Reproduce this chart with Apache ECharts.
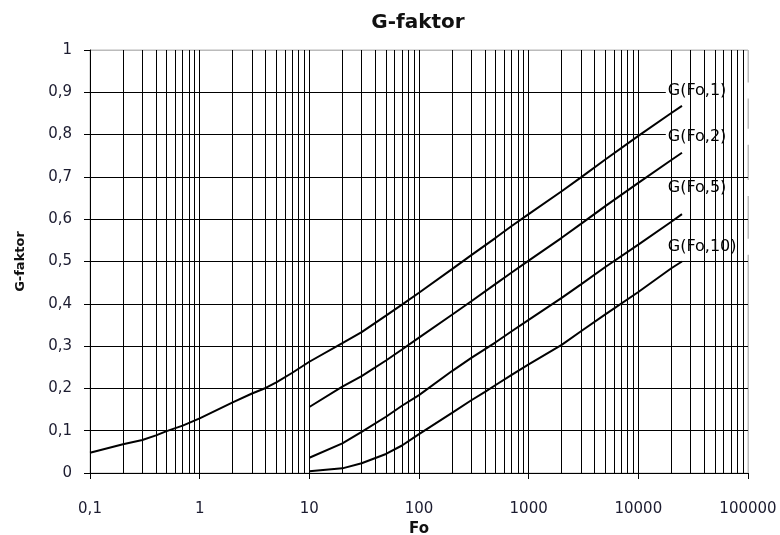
<!DOCTYPE html>
<html>
<head>
<meta charset="utf-8">
<script src="https://cdn.jsdelivr.net/npm/echarts@6/dist/echarts.min.js"></script>
<style>html,body{margin:0;padding:0;background:#fff}#c{width:780px;height:535px}</style>
</head>
<body>
<div id="c"></div>
<script>
// ---- data ----
var seriesNames = ['G(Fo,1)', 'G(Fo,2)', 'G(Fo,5)', 'G(Fo,10)'];

var fo1 = [0.1, 0.2, 0.3, 0.4, 0.5, 0.7, 1, 2, 3, 4, 5, 7, 10, 20, 30, 50, 70, 100, 200, 300, 500, 700, 1000, 2000, 3000, 5000, 10000, 20000, 25000];
var g1  = [0.048, 0.068, 0.078, 0.089, 0.099, 0.112, 0.129, 0.167, 0.188, 0.201, 0.214, 0.237, 0.263, 0.307, 0.333, 0.372, 0.398, 0.426, 0.482, 0.515, 0.556, 0.584, 0.612, 0.666, 0.699, 0.741, 0.797, 0.851, 0.868];

var fo2 = [10, 20, 30, 50, 70, 100, 200, 300, 500, 700, 1000, 2000, 3000, 5000, 10000, 20000, 25000];
var g2  = [0.156, 0.204, 0.229, 0.266, 0.292, 0.320, 0.374, 0.406, 0.447, 0.474, 0.502, 0.556, 0.589, 0.631, 0.686, 0.740, 0.757];

var fo5 = [10, 20, 30, 50, 70, 100, 200, 300, 500, 700, 1000, 2000, 3000, 5000, 10000, 20000, 25000];
var g5  = [0.036, 0.070, 0.097, 0.133, 0.159, 0.184, 0.241, 0.272, 0.309, 0.335, 0.362, 0.414, 0.446, 0.487, 0.540, 0.594, 0.612];

var fo10 = [10, 20, 30, 50, 70, 100, 200, 300, 400, 500, 700, 1000, 2000, 3000, 5000, 10000, 20000, 25000];
var g10  = [0.004, 0.011, 0.023, 0.045, 0.065, 0.092, 0.142, 0.172, 0.192, 0.208, 0.232, 0.257, 0.303, 0.335, 0.375, 0.428, 0.484, 0.500];

// curve label anchors (Fo, G) - left/middle of each label
var labelFo = [17800, 17800, 17800, 17800];
var labelG  = [0.904, 0.795, 0.674, 0.535];

var xTickLabels = ['0,1', '1', '10', '100', '1000', '10000', '100000'];
var yTickLabels = ['0', '0,1', '0,2', '0,3', '0,4', '0,5', '0,6', '0,7', '0,8', '0,9', '1'];
var decades = [0.1, 1, 10, 100, 1000, 10000];
var minorMultipliers = [2, 3, 4, 5, 6, 7, 8, 9];

// ---- build ----
function pairs(xs, ys) { return xs.map(function (x, i) { return [x, ys[i]]; }); }
var curves = [pairs(fo1, g1), pairs(fo2, g2), pairs(fo5, g5), pairs(fo10, g10)];

var minorLines = [];
decades.forEach(function (d) {
  minorMultipliers.forEach(function (m) { minorLines.push({ xAxis: d * m }); });
});

var FONT = 'DejaVu Sans';
var series = curves.map(function (d, i) {
  var s = {
    name: seriesNames[i],
    type: 'line',
    data: d,
    showSymbol: false,
    symbol: 'none',
    smooth: false,
    lineStyle: { color: '#000', width: 2 },
    z: 3,
    silent: true,
    animation: false
  };
  if (i === 0) {
    s.markLine = {
      silent: true,
      symbol: ['none', 'none'],
      label: { show: false },
      lineStyle: { color: '#000', width: 1, type: 'solid' },
      emphasis: { disabled: true },
      animation: false,
      data: minorLines
    };
  }
  return s;
});

var chart = echarts.init(document.getElementById('c'), null, { renderer: 'canvas' });
chart.setOption({
  animation: false,
  backgroundColor: '#fff',
  title: {
    text: 'G-faktor',
    left: 413,
    top: 8,
    textAlign: 'center',
    textStyle: { fontFamily: FONT, fontSize: 20, fontWeight: 'bold', color: '#111' }
  },
  grid: {
    left: 90, right: 32, top: 50, bottom: 62,
    outerBoundsMode: 'none',
    containLabel: false,
    show: true, borderColor: '#bbbbbb', borderWidth: 1, backgroundColor: 'transparent'
  },
  xAxis: {
    type: 'log',
    logBase: 10,
    min: 0.1,
    max: 100000,
    name: 'Fo',
    nameLocation: 'middle',
    nameGap: 46,
    nameTextStyle: { fontFamily: FONT, fontSize: 15, fontWeight: 'bold', color: '#111' },
    axisLine: { show: true, lineStyle: { color: '#000', width: 1 } },
    axisTick: { show: true, length: 6, lineStyle: { color: '#000' } },
    axisLabel: {
      margin: 29,
      fontFamily: FONT, fontSize: 15, color: '#1c1c30',
      formatter: function (v) {
        var idx = Math.round(Math.log10(v)) + 1;
        return xTickLabels[idx] !== undefined ? xTickLabels[idx] : '';
      }
    },
    splitLine: { show: true, lineStyle: { color: ['#000', '#000', '#000', '#000', '#000', '#000', '#bbbbbb'], width: 1 } },
    minorTick: { show: false },
    minorSplitLine: { show: false }
  },
  yAxis: {
    type: 'value',
    min: 0,
    max: 1,
    interval: 0.1,
    name: 'G-faktor',
    nameLocation: 'middle',
    nameGap: 63,
    nameTextStyle: { fontFamily: FONT, fontSize: 13, fontWeight: 'bold', color: '#111' },
    axisLine: { show: true, lineStyle: { color: '#000', width: 1 } },
    axisTick: { show: true, length: 6, lineStyle: { color: '#000' } },
    axisLabel: {
      margin: 18,
      fontFamily: FONT, fontSize: 15, color: '#1c1c30',
      formatter: function (v) {
        var idx = Math.round(v * 10);
        return yTickLabels[idx] !== undefined ? yTickLabels[idx] : '';
      }
    },
    splitLine: { show: true, lineStyle: { color: ['#000', '#000', '#000', '#000', '#000', '#000', '#000', '#000', '#000', '#000', '#bbbbbb'], width: 1 } }
  },
  series: series
});

// curve labels with white boxes, placed through the axes' own scales
var rightEdge = chart.convertToPixel({ xAxisIndex: 0 }, 100000);
var labelGraphics = labelFo.map(function (x, i) {
  var p = chart.convertToPixel({ xAxisIndex: 0, yAxisIndex: 0 }, [x, labelG[i]]);
  return {
    type: 'group',
    x: p[0], y: p[1],
    z: 100,
    silent: true,
    children: [
      { type: 'rect', shape: { x: 0, y: -8, width: rightEdge - p[0] + 2, height: 16 }, style: { fill: '#fff' } },
      { type: 'text', x: 2, y: 0, style: { text: seriesNames[i], fill: '#000', font: '16px "DejaVu Sans"', textVerticalAlign: 'middle', verticalAlign: 'middle', align: 'left' } }
    ]
  };
});
chart.setOption({ graphic: labelGraphics });
</script>
</body>
</html>
